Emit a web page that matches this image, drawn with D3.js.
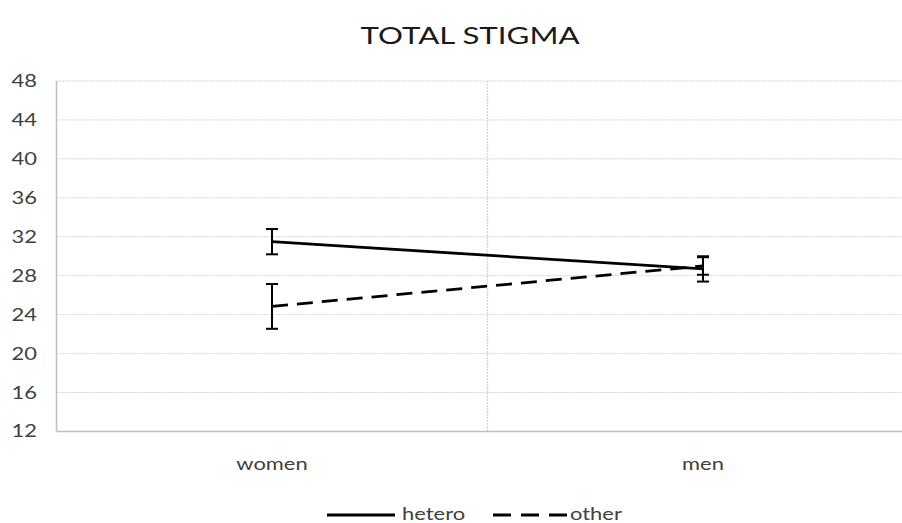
<!DOCTYPE html>
<html><head><meta charset="utf-8">
<script src="https://cdn.jsdelivr.net/npm/d3@7"></script>
<style>body{margin:0;background:#fff}svg{display:block}text{font-family:Lato,"Open Sans",sans-serif}</style>
</head><body>
<script>
const categories = ["women", "men"];
const heteroMean = [31.5, 28.7];
const heteroErr = [1.3, 1.3];
const otherMean = [24.85, 29.0];
const otherErr = [2.3, 0.9];
const yTicks = [12, 16, 20, 24, 28, 32, 36, 40, 44, 48];
const seriesNames = ["hetero", "other"];

const W = 902, H = 523;
const SX = 1.33; // horizontal stretch of the reference text
const svg = d3.select("body").append("svg").attr("width", W).attr("height", H);
const pLeft = 56.5, pTop = 81, pBottom = 431.5, bandW = 431;
const x = d3.scaleBand().domain(categories).range([pLeft, pLeft + 2 * bandW]).padding(0);
const y = d3.scaleLinear().domain([12, 48]).range([pBottom, pTop]);

function place(sel, fx, fy) {
  sel.attr("transform", (d, i) => `translate(${typeof fx === "function" ? fx(d, i) : fx},${typeof fy === "function" ? fy(d, i) : fy}) scale(${SX},1)`);
  return sel;
}

// gridlines
svg.append("g").selectAll("line").data(yTicks.filter(t => t > 12)).join("line")
  .attr("x1", pLeft).attr("x2", W).attr("y1", d => y(d)).attr("y2", d => y(d))
  .attr("stroke", "#d4d4d4").attr("stroke-width", 1).attr("stroke-dasharray", "2,1");
// category separator
svg.append("line").attr("x1", x("men")).attr("x2", x("men")).attr("y1", pTop).attr("y2", pBottom)
  .attr("stroke", "#d4d4d4").attr("stroke-width", 1.3).attr("stroke-dasharray", "2,1");

// axes lines
svg.append("line").attr("x1", pLeft).attr("x2", pLeft).attr("y1", pTop).attr("y2", pBottom)
  .attr("stroke", "#bfbfbf").attr("stroke-width", 1.5);
svg.append("line").attr("x1", pLeft).attr("x2", W).attr("y1", pBottom).attr("y2", pBottom)
  .attr("stroke", "#bfbfbf").attr("stroke-width", 1.5);

// y tick labels
place(svg.append("g").selectAll("text").data(yTicks).join("text"), 37, d => y(d))
  .attr("dy", "0.36em").attr("text-anchor", "end")
  .attr("font-size", 16.5).attr("fill", "#404040").text(d => d);
// x labels
place(svg.append("g").selectAll("text").data(categories).join("text"), d => x(d) + x.bandwidth() / 2, 470)
  .attr("text-anchor", "middle")
  .attr("font-size", 16.5).attr("fill", "#404040").text(d => d);

// title
place(svg.append("text"), 470, 44).attr("text-anchor", "middle")
  .attr("font-size", 23.5).attr("fill", "#1a1a1a").text("TOTAL STIGMA");

const cx = c => x(c) + x.bandwidth() / 2;
function drawSeries(means, errs, dash) {
  const data = categories.map((c, i) => ({c, m: means[i], e: errs[i]}));
  svg.append("path").datum(data)
    .attr("d", d3.line().x(d => cx(d.c)).y(d => y(d.m)))
    .attr("fill", "none").attr("stroke", "#000").attr("stroke-width", 2.8)
    .attr("stroke-dasharray", dash);
  const g = svg.append("g").attr("stroke", "#000").attr("stroke-width", 2);
  data.forEach(d => {
    g.append("line").attr("x1", cx(d.c)).attr("x2", cx(d.c)).attr("y1", y(d.m + d.e)).attr("y2", y(d.m - d.e));
    [d.m + d.e, d.m - d.e].forEach(v => g.append("line").attr("x1", cx(d.c) - 6).attr("x2", cx(d.c) + 6).attr("y1", y(v)).attr("y2", y(v)));
  });
}
drawSeries(heteroMean, heteroErr, null);
drawSeries(otherMean, otherErr, "16,9");

// legend
const lg = svg.append("g");
lg.append("line").attr("x1", 327).attr("x2", 395).attr("y1", 515).attr("y2", 515).attr("stroke", "#000").attr("stroke-width", 2.8);
place(lg.append("text"), 402, 520).attr("font-size", 16.5).attr("fill", "#404040").text(seriesNames[0]);
lg.append("line").attr("x1", 493).attr("x2", 567).attr("y1", 515).attr("y2", 515).attr("stroke", "#000").attr("stroke-width", 2.8).attr("stroke-dasharray", "18,10");
place(lg.append("text"), 570, 520).attr("font-size", 16.5).attr("fill", "#404040").text(seriesNames[1]);
</script>
</body></html>
